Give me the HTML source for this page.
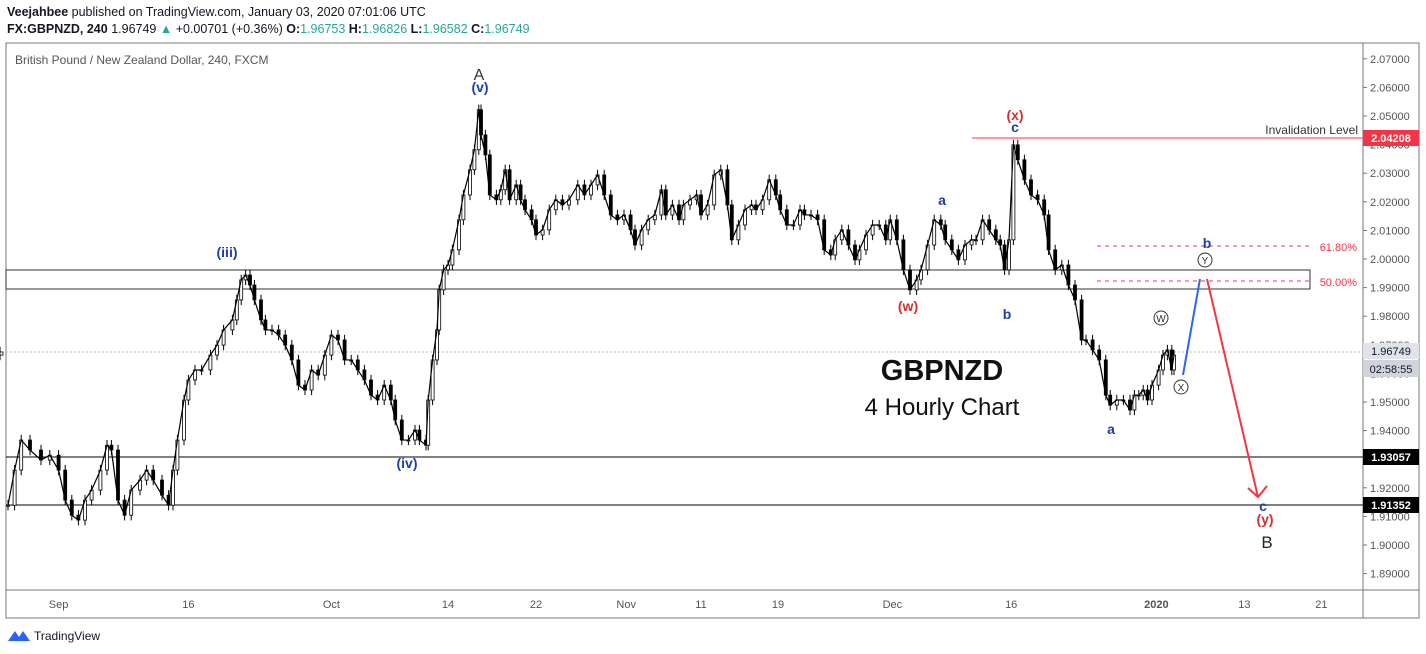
<!DOCTYPE html>
<html><head><meta charset="utf-8">
<style>
body{margin:0;background:#fff;font-family:"Liberation Sans",sans-serif;}
#wrap{position:relative;width:1426px;height:654px;overflow:hidden;background:#fff}
.hdr{position:absolute;left:7px;font-size:12.5px;color:#131722;white-space:nowrap}
.g{color:#26a69a}
</style></head><body>
<div id="wrap">
<div class="hdr" style="top:5px"><b>Veejahbee</b> published on TradingView.com, January 03, 2020 07:01:06 UTC</div>
<div class="hdr" style="top:22px"><b>FX:GBPNZD, 240</b> 1.96749 <span class="g">▲</span> +0.00701 (+0.36%) <b>O:</b><span class="g">1.96753</span> <b>H:</b><span class="g">1.96826</span> <b>L:</b><span class="g">1.96582</span> <b>C:</b><span class="g">1.96749</span></div>
<svg id="chart" width="1426" height="654" style="position:absolute;left:0;top:0">
<rect x="6" y="43" width="1413" height="575" fill="none" stroke="#777" stroke-width="1"/>
<line x1="1363" y1="43" x2="1363" y2="618" stroke="#777"/>
<line x1="6" y1="590" x2="1419" y2="590" stroke="#777"/>
<text x="15" y="64" font-size="12" fill="#555">British Pound / New Zealand Dollar, 240, FXCM</text>
<g id="yaxis"></g><g id="xaxis"></g>
<line x1="6" y1="352" x2="1363" y2="352" stroke="#bbb" stroke-dasharray="2,2"/>
<rect x="6" y="270" width="1304" height="19" fill="none" stroke="#333"/>
<line x1="6" y1="457" x2="1363" y2="457" stroke="#000"/>
<line x1="6" y1="505" x2="1363" y2="505" stroke="#000"/>
<line x1="972" y1="138" x2="1363" y2="138" stroke="#f23645"/>
<text x="1358" y="134" font-size="12" fill="#333" text-anchor="end">Invalidation Level</text>
<line x1="1097" y1="246" x2="1310" y2="246" stroke="#f23645" stroke-dasharray="4,4"/>
<line x1="1097" y1="281" x2="1310" y2="281" stroke="#f23645" stroke-dasharray="4,4"/>
<text x="1357" y="251" font-size="11" fill="#f23645" text-anchor="end">61.80%</text>
<text x="1357" y="286" font-size="11" fill="#f23645" text-anchor="end">50.00%</text>
<g id="candles"></g>
<line x1="1183" y1="375" x2="1200" y2="279" stroke="#2962ff" stroke-width="2"/>
<line x1="1207" y1="279" x2="1258" y2="497" stroke="#f23645" stroke-width="2"/>
<polyline points="1248,488 1258,497 1267,486" fill="none" stroke="#f23645" stroke-width="2"/>
<g font-size="10" text-anchor="middle" fill="#333">
<circle cx="1161" cy="318" r="7" fill="#fff" stroke="#333"/><text x="1161" y="322">W</text>
<circle cx="1181" cy="387" r="7" fill="#fff" stroke="#333"/><text x="1181" y="391">X</text>
<circle cx="1205" cy="260" r="7" fill="#fff" stroke="#333"/><text x="1205" y="264">Y</text>
</g>
<g font-size="14" font-weight="bold" text-anchor="middle">
<text x="479" y="80" fill="#333" font-weight="normal" font-size="16">A</text>
<text x="480" y="92" fill="#1c3fa8">(v)</text>
<text x="227" y="257" fill="#1c3fa8">(iii)</text>
<text x="407" y="468" fill="#1c3fa8">(iv)</text>
<text x="908" y="311" fill="#d32f2f">(w)</text>
<text x="942" y="205" fill="#1c3fa8">a</text>
<text x="1007" y="319" fill="#1c3fa8">b</text>
<text x="1015" y="120" fill="#d32f2f">(x)</text>
<text x="1015" y="132" fill="#1c3fa8">c</text>
<text x="1111" y="434" fill="#1c3fa8">a</text>
<text x="1207" y="248" fill="#1c3fa8">b</text>
<text x="1263" y="511" fill="#1c3fa8">c</text>
<text x="1265" y="524" fill="#d32f2f">(y)</text>
<text x="1267" y="548" fill="#222" font-weight="normal" font-size="17">B</text>
</g>
<text x="942" y="380" font-size="29" font-weight="bold" text-anchor="middle" fill="#111">GBPNZD</text>
<text x="942" y="415" font-size="24" text-anchor="middle" fill="#111">4 Hourly Chart</text>
<rect x="1363" y="130" width="56" height="16" fill="#f23645"/>
<text x="1391" y="142" font-size="11" font-weight="bold" fill="#fff" text-anchor="middle">2.04208</text>
<rect x="1363" y="343" width="56" height="16" fill="#e0e3eb"/>
<text x="1391" y="355" font-size="11" fill="#131722" text-anchor="middle">1.96749</text>
<rect x="1363" y="360" width="56" height="17" fill="#d1d4dc"/>
<text x="1391" y="373" font-size="11" fill="#131722" text-anchor="middle">02:58:55</text>
<rect x="1363" y="449" width="56" height="16" fill="#000"/>
<text x="1391" y="461" font-size="11" font-weight="bold" fill="#fff" text-anchor="middle">1.93057</text>
<rect x="1363" y="497" width="56" height="16" fill="#000"/>
<text x="1391" y="509" font-size="11" font-weight="bold" fill="#fff" text-anchor="middle">1.91352</text>
<g>
<path d="M8 641 L15 631 L19 637 L23 631 L30 641 Z" fill="#2962ff"/>
<text x="34" y="640" font-size="12" fill="#131722">TradingView</text>
</g>
</svg>
</div>
<script>
const closes=[1.9139,1.9262,1.9367,1.9332,1.9297,1.9314,1.9262,1.9157,1.9104,1.9087,1.9157,1.9192,1.9262,1.9349,1.9332,1.9157,1.9104,1.9192,1.9227,1.9262,1.9227,1.9174,1.9139,1.9262,1.9367,1.9507,1.9577,1.9612,1.9612,1.9664,1.9699,1.9752,1.9787,1.9857,1.9927,1.9944,1.9909,1.9857,1.9787,1.9752,1.9752,1.9734,1.9699,1.9647,1.9559,1.9542,1.9612,1.9594,1.9664,1.9734,1.9717,1.9647,1.9647,1.9612,1.9577,1.9524,1.9507,1.9559,1.9507,1.9437,1.9367,1.9367,1.9402,1.9367,1.9349,1.9507,1.9647,1.9752,1.9892,1.9962,1.9979,2.0032,2.0137,2.0224,2.0312,2.0382,2.0522,2.0434,2.0364,2.0224,2.0207,2.0242,2.0312,2.0207,2.0259,2.0207,2.0172,2.0137,2.0084,2.0102,2.0172,2.0207,2.0189,2.0207,2.0259,2.0224,2.0259,2.0294,2.0224,2.0154,2.0137,2.0154,2.0102,2.0049,2.0102,2.0137,2.0154,2.0242,2.0154,2.0189,2.0137,2.0189,2.0207,2.0224,2.0154,2.0189,2.0294,2.0312,2.0189,2.0067,2.0119,2.0172,2.0189,2.0172,2.0207,2.0277,2.0224,2.0172,2.0119,2.0119,2.0172,2.0154,2.0154,2.0137,2.0032,2.0014,2.0067,2.0102,2.0049,1.9997,2.0032,2.0084,2.0119,2.0119,2.0067,2.0137,2.0067,1.9962,1.9892,1.9927,1.9962,2.0049,2.0137,2.0119,2.0067,2.0032,1.9997,2.0049,2.0067,2.0067,2.0137,2.0102,2.0067,2.0049,1.9962,2.0067,2.0399,2.0347,2.0277,2.0224,2.0207,2.0154,2.0032,1.9962,1.9979,1.9909,1.9857,1.9717,1.9717,1.9682,1.9647,1.9524,1.9489,1.9507,1.9507,1.9472,1.9524,1.9524,1.9542,1.9507,1.9559,1.9612,1.9664,1.9682,1.9612,1.9664,1.9675];
const barTimes=[0,3,6,10,15,19,23,26,29,32,35,38,42,45,47,50,53,56,60,63,66,70,73,75,77,80,82,85,88,92,95,98,102,104,106,108,110,112,115,117,120,123,126,129,132,135,138,141,144,147,150,153,156,159,162,165,168,171,174,176,179,182,185,187,190,191,193,195,196,198,200,202,205,207,210,212,214,215,217,219,222,224,226,228,231,233,235,238,240,243,246,249,252,255,259,262,265,268,271,274,277,280,283,285,288,291,294,297,299,302,305,307,310,313,315,318,321,324,327,329,332,335,338,340,343,346,349,351,354,357,360,362,365,368,371,374,376,379,382,385,387,390,393,396,399,401,404,407,410,413,415,418,421,424,426,429,432,435,438,440,443,446,449,451,453,455,457,459,462,465,468,471,473,476,479,482,485,488,490,493,496,499,501,504,507,510,512,514,516,518,520,523,525,527,529,530];
const priceTicks=[2.07,2.06,2.05,2.04,2.03,2.02,2.01,2.00,1.99,1.98,1.97,1.96,1.95,1.94,1.93,1.92,1.91,1.90,1.89];
const dateLabels=["Sep","16","Oct","14","22","Nov","11","19","Dec","16","2020","13","21"];
const dateBars=[23,82,147,200,240,281,315,350,402,456,522,562,597];
const y=p=>259-(p-2.0)*2860;
const x=b=>8+b*2.2;
const NS="http://www.w3.org/2000/svg";
function mk(tag,attrs,parent){const e=document.createElementNS(NS,tag);for(const k in attrs)e.setAttribute(k,attrs[k]);parent.appendChild(e);return e;}
const ya=document.getElementById('yaxis');
priceTicks.forEach(p=>{
  const t=mk('text',{x:1370,y:y(p)+4,'font-size':11,fill:'#555'},ya);
  
  
  t.textContent=p.toFixed(5);
  const l=mk('line',{x1:1363,x2:1367,y1:y(p),y2:y(p),stroke:'#777'},ya);
  
  
});
const xa=document.getElementById('xaxis');
dateLabels.forEach((d,i)=>{
  const t=mk('text',{x:x(dateBars[i]),y:608,'font-size':11,fill:'#555','text-anchor':'middle','font-weight':d==='2020'?'bold':'normal'},xa);
  
  
  t.textContent=d;
});
const cg=document.getElementById('candles');
let pts=[];
closes.forEach((c,i)=>{
  const o=i?closes[i-1]:c;
  const cx=x(barTimes[i]);
  pts.push(cx+','+y(c));
  const hi=Math.max(o,c)+0.0018, lo=Math.min(o,c)-0.0018;
  const w=mk('line',{x1:cx,x2:cx,y1:y(hi),y2:y(lo),stroke:'#000'},cg);
  
  
  const top=y(Math.max(o,c)),h=Math.max(1,Math.abs(y(o)-y(c)));
  const r=mk('rect',{x:cx-1.5,y:top,width:3,height:h,fill:c>=o?'#fff':'#000',stroke:'#000','stroke-width':0.8},cg);
  
  
});
const pl=mk('polyline',{points:pts.join(' '),fill:'none',stroke:'#000','stroke-width':1.2},cg);


</script>
</body></html>
